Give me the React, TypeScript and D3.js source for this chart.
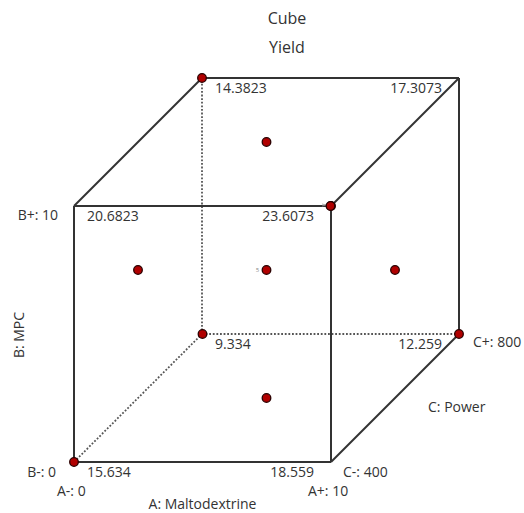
import * as d3 from 'd3';
import { useEffect, useRef } from "react";

// coded design levels for each factor
const levels = [-1, 1];
// corner responses, order: [A, B, C, value]
const cornerValues = [
    [-1, 1, 1, "14.3823"],
    [1, 1, 1, "17.3073"],
    [-1, 1, -1, "20.6823"],
    [1, 1, -1, "23.6073"],
    [-1, -1, 1, "9.334"],
    [1, -1, 1, "12.259"],
    [-1, -1, -1, "15.634"],
    [1, -1, -1, "18.559"],
];
// design runs shown as dots (half fraction + axial + centre)
const runs = [
    [-1, -1, -1], [1, 1, -1], [-1, 1, 1], [1, -1, 1],
    [-1, 0, 0], [1, 0, 0], [0, -1, 0], [0, 1, 0], [0, 0, -1], [0, 0, 1],
    [0, 0, 0],
];
const centerReps = "5";
const factorA = { name: "A: Maltodextrine", low: "A-: 0", high: "A+: 10" };
const factorB = { name: "B: MPC", low: "B-: 0", high: "B+: 10" };
const factorC = { name: "C: Power", low: "C-: 400", high: "C+: 800" };

const App = () => {
    const svgRef = useRef();
    const width = 524, height = 513;

    useEffect(() => {
        const svg = d3.select(svgRef.current)
            .attr('width', width)
            .attr('height', height);
        svg.selectAll('*').remove();

        const x = d3.scaleLinear().domain([-1, 1]).range([74, 331]);
        const y = d3.scaleLinear().domain([-1, 1]).range([462, 206]);
        const depth = d3.scaleLinear().domain([-1, 1]).range([0, 128]);
        const px = (a, c) => x(a) + depth(c);
        const py = (b, c) => y(b) - depth(c);

        const font = "'Open Sans', 'Segoe UI', sans-serif";
        const txt = "#333";

        // edges
        const edges = [];
        levels.forEach(u => levels.forEach(v => {
            edges.push([[-1, u, v], [1, u, v]]);
            edges.push([[u, -1, v], [u, 1, v]]);
            edges.push([[u, v, -1], [u, v, 1]]);
        }));
        const hidden = p => p[0] === -1 && p[1] === -1 && p[2] === 1;
        edges.forEach(([p, q]) => {
            const dotted = hidden(p) || hidden(q);
            svg.append("line")
                .attr("x1", px(p[0], p[2]))
                .attr("y1", py(p[1], p[2]))
                .attr("x2", px(q[0], q[2]))
                .attr("y2", py(q[1], q[2]))
                .attr("stroke", dotted ? "#555" : "#333")
                .attr("stroke-width", dotted ? 1.8 : 2)
                .attr("stroke-dasharray", dotted ? "1.8,1.8" : null);
        });

        // title
        svg.append('text').attr('x', 287).attr('y', 20).attr('text-anchor', 'middle')
            .attr('dominant-baseline', 'middle').attr('font-family', font).attr('font-size', 16)
            .attr('fill', txt).text('Cube');
        svg.append('text').attr('x', 287).attr('y', 49).attr('text-anchor', 'middle')
            .attr('dominant-baseline', 'middle').attr('font-family', font).attr('font-size', 16)
            .attr('fill', txt).text('Yield');

        // corner values
        cornerValues.forEach(([a, b, c, v]) => {
            svg.append('text')
                .attr('x', px(a, c) + (a < 0 ? 13 : -17))
                .attr('y', py(b, c) + 11)
                .attr('text-anchor', a < 0 ? 'start' : 'end')
                .attr('dominant-baseline', 'middle')
                .attr('font-family', font).attr('font-size', 14)
                .attr('fill', txt)
                .text(v);
        });

        // factor labels
        const label = (tx, ty, s, anchor = 'start', rot = 0) => {
            const t = svg.append('text')
                .attr('text-anchor', anchor)
                .attr('dominant-baseline', 'middle')
                .attr('font-family', font).attr('font-size', 14)
                .attr('fill', txt)
                .text(s);
            if (rot) t.attr('transform', `translate(${tx},${ty}) rotate(${rot})`);
            else t.attr('x', tx).attr('y', ty);
        };
        label(x(-1) - 16, y(1) + 10, factorB.high, 'end');
        label(x(-1) - 18, y(-1) + 11, factorB.low, 'end');
        label(x(-1) - 17, y(-1) + 30, factorA.low, 'start');
        label(x(1) - 23, y(-1) + 30, factorA.high, 'start');
        label((x(-1) + x(1)) / 2, y(-1) + 43, factorA.name, 'middle');
        label(x(1) + 12, y(-1) + 11, factorC.low, 'start');
        label(px(1, 1) + 14, py(-1, 1) + 9, factorC.high, 'start');
        label(px(1, 0) + 33, py(-1, 0) + 10, factorC.name, 'start');
        label(20, (y(-1) + y(1)) / 2 + 1, factorB.name, 'middle', -90);

        // small arrow at front top right
        svg.append('path')
            .attr('d', `M${x(1) - 9},${y(1) - 2} L${x(1) - 5},${y(1) - 1} L${x(1) - 9},${y(1)}`)
            .attr('stroke', '#999').attr('fill', 'none').attr('stroke-width', 0.8);

        // centre replicate count
        svg.append('text')
            .attr('x', px(0, 0) - 9).attr('y', py(0, 0))
            .attr('text-anchor', 'middle').attr('dominant-baseline', 'middle')
            .attr('font-family', font).attr('font-size', 6).attr('fill', '#888')
            .text(centerReps);

        // design points
        svg.selectAll('circle.run')
            .data(runs)
            .enter()
            .append('circle')
            .attr('class', 'run')
            .attr('cx', d => px(d[0], d[2]))
            .attr('cy', d => py(d[1], d[2]))
            .attr('r', 4.3)
            .attr('fill', '#b00000')
            .attr('stroke', '#2a0000')
            .attr('stroke-width', 1.3);
    });

    return (
        <svg ref={svgRef} style={{ position: 'absolute', left: 0, top: 0, background: 'white' }} />
    );
}

export default App;
